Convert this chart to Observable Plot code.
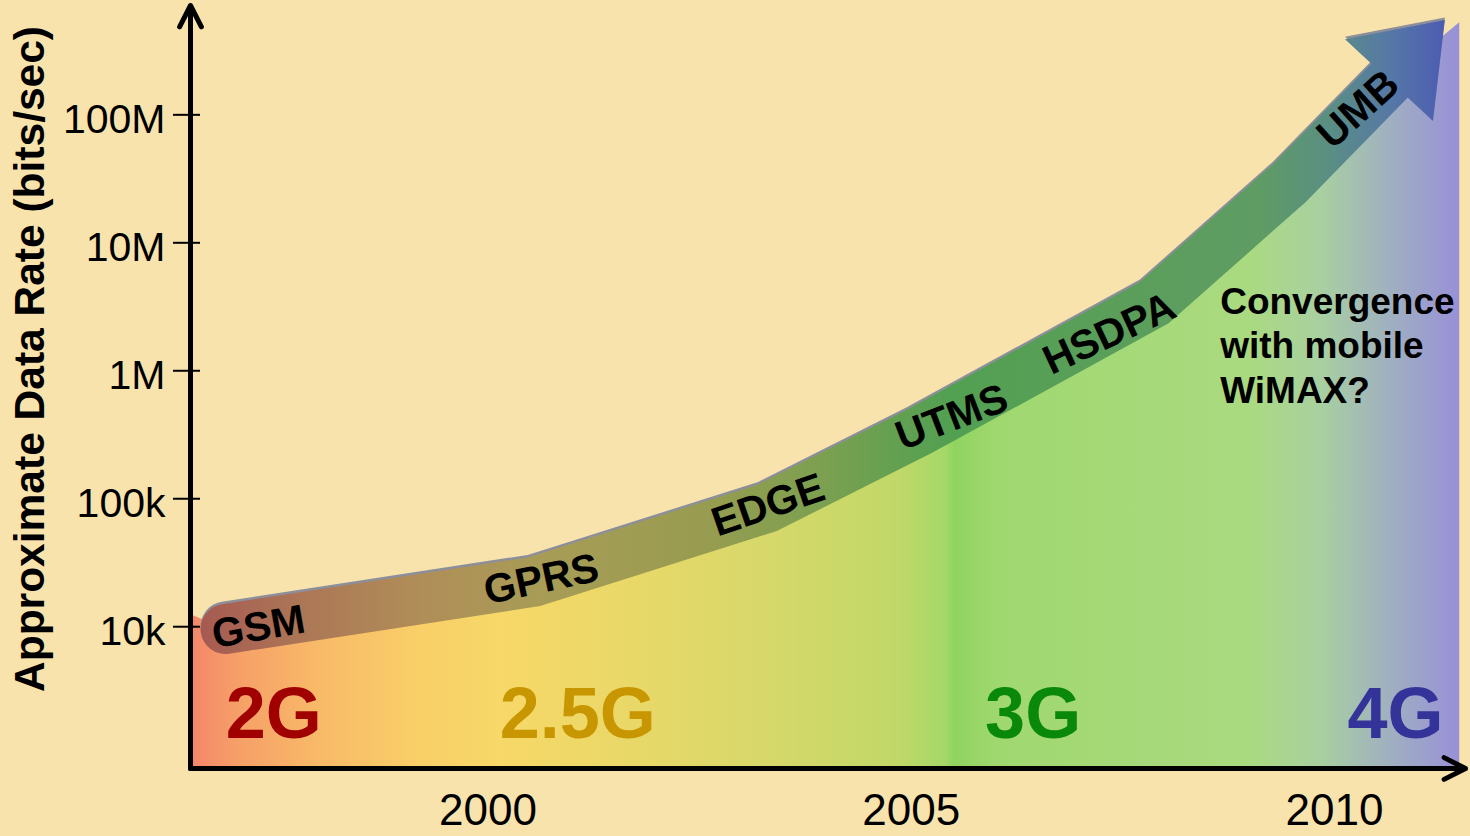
<!DOCTYPE html>
<html>
<head>
<meta charset="utf-8">
<script src="https://cdn.jsdelivr.net/npm/d3@7"></script>
<script src="https://cdn.jsdelivr.net/npm/@observablehq/plot@0.6"></script>
<style>
  html, body { margin: 0; padding: 0; background: #F9E3AD; }
  #chart svg { display: block; }
</style>
</head>
<body>
<div id="chart"></div>
<script>
// Centre line of the technology band: year and approximate data rate (bits/sec)
const bandYears = [1996.9, 2000.55, 2003.3, 2005.11, 2007.87, 2009.46, 2010.65];
const bandRates = [9.6e3, 2.25e4, 8.5e4, 3.4e5, 3.4e6, 2.9e7, 1.85e8];
// Where the band's arrow points
const tipYear = 2011.31;
const tipRate = 5.46e8;

// Upper edge of the generation fill
const fillYears = [1996.52, 1996.9, 2000.55, 2003.3, 2005.11, 2007.87, 2009.46, 2010.65, 2011.48];
const fillRates = [1.22e4, 9.6e3, 2.25e4, 8.5e4, 3.4e5, 3.4e6, 2.9e7, 1.85e8, 5.25e8];

// Technologies written along the band
const techNames = ["GSM", "GPRS", "EDGE", "UTMS", "HSDPA", "UMB"];
const techYears = [1997.29, 2000.63, 2003.31, 2005.48, 2007.34, 2010.28];
const techRates = [9.9e3, 2.34e4, 8.87e4, 4.31e5, 1.95e6, 1.1e8];

// Generations along the time axis
const genNames = ["2G", "2.5G", "3G", "4G"];
const genYears = [1997.47, 2001.06, 2006.44, 2010.72];

// Side note
const noteText = "Convergence\nwith mobile\nWiMAX?";
const noteYear = 2008.65;
const noteRate = 4.9e6;

// Axes
const xDomain = [1996.486, 2011.548];
const yDomain = [780, 7.15e8];
const xTicks = [2000, 2005, 2010];
const yTicks = [1e4, 1e5, 1e6, 1e7, 1e8];
const yTickLabels = ["10k", "100k", "1M", "10M", "100M"];
const yTitle = "Approximate Data Rate (bits/sec)";

// ---- tables built from the arrays above ----
const band = bandYears.map((year, i) => ({year, rate: bandRates[i]}));
const fill = fillYears.map((year, i) => ({year, rate: fillRates[i]}));
const techs = techNames.map((name, i) => ({name, year: techYears[i], rate: techRates[i]}));
const gens = genNames.map((name, i) => ({name, year: genYears[i]}));
const yLabels = yTicks.map((value, i) => ({value, label: yTickLabels[i]}));

// ---- styling ----
const FONT = "'Liberation Sans', Arial, Helvetica, sans-serif";
const techTilt = {GSM: -10, GPRS: -12, EDGE: -19, UTMS: -21, HSDPA: -25, UMB: -42};
const genColor = {"2G": "#A00000", "2.5G": "#C89600", "3G": "#0A880A", "4G": "#333399"};
const BAND_WIDTH = 50;
const HEAD_HALF = 60;

const fillStops = [
  [0.000, "#F4886A"], [0.037, "#F6A068"], [0.100, "#F8BA68"], [0.180, "#F9CF68"],
  [0.242, "#F7D868"], [0.337, "#EAD868"], [0.447, "#D8D86A"], [0.558, "#C0D868"],
  [0.594, "#A4D868"], [0.601, "#90D460"], [0.637, "#A0D870"], [0.834, "#AADA80"],
  [0.890, "#A8D0A0"], [0.945, "#A0B0C0"], [1.000, "#9890D8"]
];
const bandStops = [
  [0.000, "#A65A52"], [0.080, "#AC7656"], [0.177, "#B08E58"], [0.273, "#A89C56"],
  [0.402, "#989C50"], [0.498, "#7CA050"], [0.602, "#52A052"], [0.763, "#5C9E5C"],
  [0.851, "#5E9C64"], [0.908, "#5A8E84"], [0.956, "#5678A6"], [1.000, "#4C5CB2"]
];

// Horizontal gradients laid out in screen space from the x scale
function gradients(index, {x}) {
  const defs = d3.create("svg:defs");
  const add = (id, x1, x2, stops) => {
    const g = defs.append("linearGradient")
      .attr("id", id)
      .attr("gradientUnits", "userSpaceOnUse")
      .attr("x1", x1).attr("x2", x2).attr("y1", 0).attr("y2", 0);
    for (const [o, c] of stops) g.append("stop").attr("offset", o).attr("stop-color", c);
  };
  add("fillGrad", x(fillYears[0]), x(fillYears[fillYears.length - 1]), fillStops);
  add("bandGrad", x(bandYears[0]) - BAND_WIDTH / 2, x(tipYear), bandStops);
  return defs.node();
}

// Triangular head at the end of the band, pointing at the tip
function arrowHead(index, {x, y}) {
  const n = bandYears.length - 1;
  const bx = x(bandYears[n]), by = y(bandRates[n]);
  const tx = x(tipYear), ty = y(tipRate);
  const len = Math.hypot(tx - bx, ty - by);
  const px = -(ty - by) / len * HEAD_HALF, py = (tx - bx) / len * HEAD_HALF;
  const d = `M${bx + px},${by + py}L${tx},${ty}L${bx - px},${by - py}Z`;
  const g = d3.create("svg:g");
  g.append("path").attr("d", d).attr("fill", "#8C8F9A").attr("transform", "translate(0,-2.5)");
  g.append("path").attr("d", d).attr("fill", "url(#bandGrad)");
  return g.node();
}

const chart = Plot.plot({
  width: 1470,
  height: 836,
  marginLeft: 190,
  marginRight: 5,
  marginTop: 5,
  marginBottom: 68,
  style: {background: "#F9E3AD", fontFamily: FONT, color: "black", overflow: "visible"},
  x: {domain: xDomain},
  y: {type: "log", domain: yDomain},
  color: {type: "identity"},
  marks: [
    gradients,
    // generation fill under the curve
    Plot.areaY(fill, {x: "year", y1: yDomain[0], y2: "rate", fill: "url(#fillGrad)"}),
    // the technology band (soft shadow, then the band itself)
    Plot.line(band, {x: "year", y: "rate", stroke: "#8C8F9A", strokeWidth: BAND_WIDTH,
      strokeLinecap: "round", strokeLinejoin: "miter", strokeMiterlimit: 4, dy: -2.5}),
    Plot.line(band, {x: "year", y: "rate", stroke: "url(#bandGrad)", strokeWidth: BAND_WIDTH,
      strokeLinecap: "round", strokeLinejoin: "miter", strokeMiterlimit: 4}),
    arrowHead,
    // technology names along the band
    Plot.text(techs, {x: "year", y: "rate", text: "name", rotate: d => techTilt[d.name],
      fontSize: 41, fontWeight: "bold", fill: "black"}),
    // generation labels
    Plot.text(gens, {x: "year", text: "name", frameAnchor: "bottom", lineAnchor: "middle",
      dy: -54, fill: d => genColor[d.name], fontSize: 72, fontWeight: "bold"}),
    // side note
    Plot.text([noteText], {x: noteYear, y: noteRate, text: d => d, textAnchor: "start",
      lineAnchor: "top", lineHeight: 1.2, fontSize: 37, fontWeight: "bold", fill: "black"}),
    // axes: tick marks crossing the y axis, then their labels
    Plot.axisY({ticks: yTicks, tickFormat: () => "", tickSize: 27, dx: 10, strokeWidth: 2, label: null}),
    Plot.text(yLabels, {y: "value", text: "label", frameAnchor: "left", textAnchor: "end",
      dx: -25, dy: 5, fontSize: 41, fill: "black"}),
    Plot.axisX({ticks: xTicks, tickFormat: d => String(d), tickSize: 0, tickPadding: 25,
      fontSize: 44, label: null}),
    Plot.arrow([0], {x1: xDomain[0], y1: yDomain[0], x2: xDomain[0], y2: yDomain[1],
      stroke: "black", strokeWidth: 5, headLength: 7.2, headAngle: 54}),
    Plot.arrow([0], {x1: xDomain[0], y1: yDomain[0], x2: xDomain[1], y2: yDomain[0],
      stroke: "black", strokeWidth: 5, headLength: 7.2, headAngle: 54}),
    // y-axis title
    Plot.text([yTitle], {frameAnchor: "left", textAnchor: "middle", lineAnchor: "middle",
      text: d => d, rotate: -90, dx: -160, dy: -28, fontSize: 42.5, fontWeight: "bold", fill: "black"})
  ]
});

document.getElementById("chart").append(chart);
</script>
</body>
</html>
